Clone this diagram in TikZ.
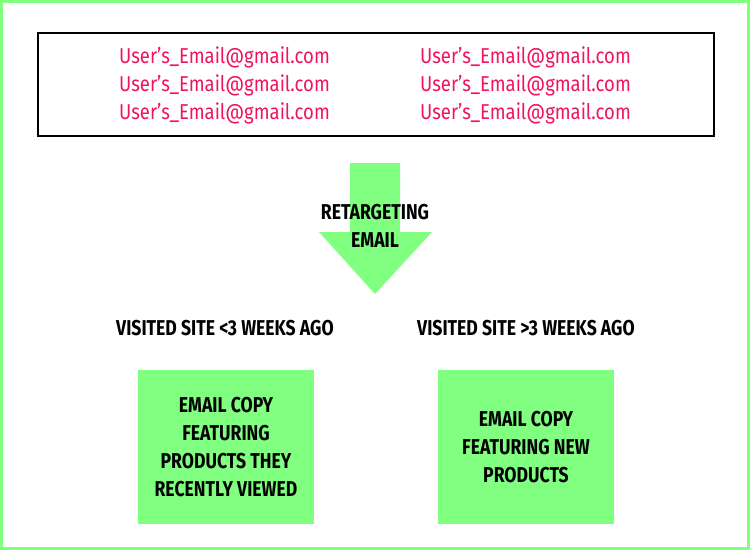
\documentclass[tikz,border=0pt]{standalone}
\usepackage{fontspec}
\setmainfont{Fira Sans}
\newfontfamily\emailfont[FakeStretch=0.86]{Fira Sans}
\newfontfamily\labelfont[FakeStretch=0.82]{Fira Sans}
\definecolor{lgreen}{HTML}{80FF80}
\definecolor{epink}{HTML}{F0145A}
\begin{document}
\begin{tikzpicture}[x=1pt,y=-1pt,
  email/.style={text=epink,font=\emailfont\fontsize{21.5}{28}\selectfont,inner sep=0pt,anchor=center},
  lbl/.style={font=\labelfont\bfseries\fontsize{21.5}{28}\selectfont,align=center,inner sep=0pt},
  greenbox/.style={fill=lgreen,draw=none,minimum width=176pt,minimum height=154pt,inner sep=0pt}]
\useasboundingbox (0,0) rectangle (750,550);
\draw[lgreen,line width=3pt] (1.5,1.5) rectangle (748.5,548.5);
\node[draw=black,line width=2pt,minimum width=676pt,minimum height=103pt,inner sep=0pt] (list) at (375.5,84) {};
\foreach \i/\y in {1/57.5,2/85.5,3/113.5}{
  \node[email] (l\i) at (224.5,\y) {User’s\_Email@gmail.com};
  \node[email] (r\i) at (525.5,\y) {User’s\_Email@gmail.com};
}
\fill[lgreen] (350,163) -- (400,163) -- (400,232) -- (432,232) -- (375,294) -- (319,232) -- (350,232) -- cycle;
\node[lbl] (arrowtxt) at (375,226) {RETARGETING\\EMAIL};
\node[lbl] (h1) at (225,328) {VISITED SITE <3 WEEKS AGO};
\node[lbl] (h2) at (526,328) {VISITED SITE >3 WEEKS AGO};
\node[greenbox,lbl] (b1) at (226,447) {EMAIL COPY\\FEATURING\\PRODUCTS THEY\\RECENTLY VIEWED};
\node[greenbox,lbl] (b2) at (526,447) {EMAIL COPY\\FEATURING NEW\\PRODUCTS};
\end{tikzpicture}
\end{document}
